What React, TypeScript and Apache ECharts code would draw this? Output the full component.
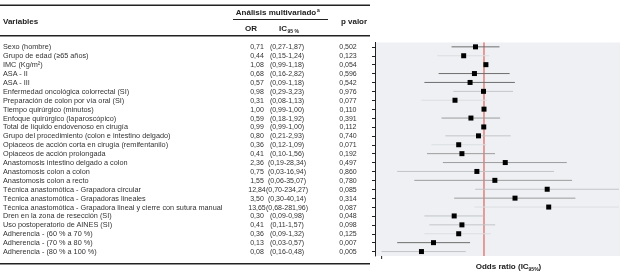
import React, { useEffect, useRef } from "react";
import * as echarts from "echarts";

const variables = [
  "Sexo (hombre)",
  "Grupo de edad (≥65 años)",
  "IMC (Kg/m²)",
  "ASA - II",
  "ASA - III",
  "Enfermedad oncológica colorrectal (SI)",
  "Preparación de colon por vía oral (SI)",
  "Tiempo quirúrgico (minutos)",
  "Enfoque quirúrgico (laparoscópico)",
  "Total de líquido endovenoso en cirugía",
  "Grupo del procedimiento (colon e intestino delgado)",
  "Opiaceos de acción corta en cirugía (remifentanilo)",
  "Opiaceos de acción prolongada",
  "Anastomosis intestino delgado a colon",
  "Anastomosis colon a colon",
  "Anastomosis colon a recto",
  "Técnica anastomótica - Grapadora circular",
  "Técnica anastomótica - Grapadoras lineales",
  "Técnica anastomótica - Grapadora lineal y cierre con sutura manual",
  "Dren en la zona de resección (SI)",
  "Uso postoperatorio de AINES (SI)",
  "Adherencia - (60 % a 70 %)",
  "Adherencia - (70 % a 80 %)",
  "Adherencia - (80 % a 100 %)",
];

const orText = ["0,71","0,44","1,08","0,68","0,57","0,98","0,31","1,00","0,59","0,99","0,80","0,36","0,41","2,36","0,75","1,55","12,84","3,50","13,65","0,30","0,41","0,36","0,13","0,08"];
const icText = ["(0,27-1,87)","(0,15-1,24)","(0,99-1,18)","(0,16-2,82)","(0,09-1,18)","(0,29-3,23)","(0,08-1,13)","(0,99-1,00)","(0,18-1,92)","(0,99-1,00)","(0,21-2,93)","(0,12-1,09)","(0,10-1,56)","(0,19-28,34)","(0,03-16,94)","(0,06-35,07)","(0,70-234,27)","(0,30-40,14)","(0,68-281,96)","(0,09-0,98)","(0,11-1,57)","(0,09-1,32)","(0,03-0,57)","(0,16-0,48)"];
const pText = ["0,502","0,123","0,054","0,596","0,542","0,976","0,077","0,110","0,391","0,112","0,740","0,071","0,192","0,497","0,860","0,780","0,085","0,314","0,087","0,048","0,098","0,125","0,007","0,005"];

const orValue = [0.71,0.44,1.08,0.68,0.57,0.98,0.31,1.0,0.59,0.99,0.8,0.36,0.41,2.36,0.75,1.55,12.84,3.5,13.65,0.3,0.41,0.36,0.13,0.08];
const ciLow = [0.27,0.15,0.99,0.16,0.09,0.29,0.08,0.99,0.18,0.99,0.21,0.12,0.1,0.19,0.03,0.06,0.7,0.3,0.68,0.09,0.11,0.09,0.03,0.016];
const ciHigh = [1.87,1.24,1.18,2.82,3.48,3.23,1.13,1.0,1.92,1.0,2.93,1.09,1.56,28.34,16.94,35.07,234.27,40.14,281.96,0.98,1.57,1.32,0.57,0.48];
const refOR = 1;
const axisTickValue = 0.016;

// line shade per row (style only)
const D = "#6e6e6e", M = "#9c9c9c", L = "#c2c4c7", F = "#dcdee1";
const ciShade = [D, F, D, D, D, L, F, D, M, D, L, F, M, M, L, M, L, M, F, L, L, F, D, L];

const FONT = "'Liberation Sans', Arial, sans-serif";

// table rules (decoration): [x, y, width, height]
const tableRules = [
  [0, 4.5, 370, 1.5],
  [233, 19, 95, 1],
  [0, 35, 370, 1.5],
  [0, 263, 370, 1.5],
];

// table header texts (decoration): [x, y, text, align, fontSize]
const headers: [number, number, string, string, number][] = [
  [3, 21, "Variables", "left", 8],
  [276, 12, "Análisis multivariado", "center", 8],
  [317, 9.5, "a", "left", 5],
  [251, 28, "OR", "center", 8],
  [287, 28, "IC", "right", 8],
  [287.5, 30.5, "95 %", "left", 5],
  [354, 21, "p valor", "center", 8],
];

function buildOption() {
  const rows = variables.map((_, i) => [orValue[i], ciLow[i], ciHigh[i], i]);
  const colAxis = (data: string[], margin: number) => ({
    type: "category",
    data,
    inverse: true,
    position: "left",
    axisLine: { show: false },
    axisTick: { show: false },
    splitLine: { show: false },
    axisLabel: { interval: 0, align: "center", margin, fontSize: 7, fontFamily: FONT, color: "#333" },
  });
  return {
    animation: false,
    grid: { left: 375, right: 4, top: 42.4, bottom: 14.5, show: true, backgroundColor: "#eef0f3", borderWidth: 0 },
    xAxis: {
      type: "log",
      min: 0.01225,
      max: 243,
      axisLine: { lineStyle: { color: "#222", width: 1.5 } },
      axisTick: { show: false },
      axisLabel: { show: false },
      splitLine: { show: false },
      name: "{a|Odds ratio (IC}{b|95%}{a|)}",
      nameLocation: "middle",
      nameGap: 4,
      nameTextStyle: {
        padding: [2, 0, 0, 22],
        rich: {
          a: { fontSize: 8, fontWeight: "bold", fontFamily: FONT, color: "#222" },
          b: { fontSize: 5, fontWeight: "bold", fontFamily: FONT, color: "#222", padding: [4, 0, 0, 0] },
        },
      },
    },
    yAxis: [
      {
        type: "category",
        data: variables,
        inverse: true,
        position: "left",
        axisLine: { show: true, lineStyle: { color: "#222", width: 1 } },
        axisTick: { show: true, alignWithLabel: true, length: 3, lineStyle: { color: "#222" } },
        splitLine: { show: false },
        axisLabel: { interval: 0, align: "left", margin: 372, fontSize: 7.3, fontFamily: FONT, color: "#333" },
      },
      colAxis(orText, 118),
      colAxis(icText, 88),
      colAxis(pText, 27),
    ],
    series: [
      {
        type: "custom",
        clip: false,
        encode: { x: [0, 1, 2], y: 3 },
        data: rows,
        renderItem: (params: any, api: any) => {
          const cs = params.coordSys;
          const y = api.value(3);
          const lo = api.coord([api.value(1), y]);
          const hi = api.coord([api.value(2), y]);
          const c = api.coord([api.value(0), y]);
          const children: any[] = [];
          if (params.dataIndex === 0) {
            const rx = api.coord([refOR, y])[0];
            const tx = api.coord([axisTickValue, y])[0];
            children.push(
              { type: "line", shape: { x1: rx, y1: cs.y, x2: rx, y2: cs.y + cs.height }, style: { stroke: "#d9473f", lineWidth: 1 } },
              { type: "line", shape: { x1: tx, y1: cs.y + cs.height, x2: tx, y2: cs.y + cs.height + 3 }, style: { stroke: "#222", lineWidth: 1 } }
            );
            tableRules.forEach((r) => {
              children.push({ type: "rect", shape: { x: r[0], y: r[1], width: r[2], height: r[3] }, style: { fill: "#222" } });
            });
            headers.forEach((h) => {
              children.push({
                type: "text",
                x: h[0],
                y: h[1],
                style: {
                  text: h[2],
                  fontSize: h[4],
                  fontWeight: "bold",
                  fontFamily: FONT,
                  fill: "#222",
                  align: h[3],
                  verticalAlign: "middle",
                },
              });
            });
          }
          children.push(
            {
              type: "line",
              shape: { x1: Math.max(lo[0], cs.x), y1: lo[1], x2: Math.min(hi[0], cs.x + cs.width - 1), y2: hi[1] },
              style: { stroke: ciShade[params.dataIndex], lineWidth: 1 },
            },
            { type: "rect", shape: { x: c[0] - 2.5, y: c[1] - 2.5, width: 5, height: 5 }, style: { fill: "#000" } }
          );
          return { type: "group", children };
        },
      },
    ],
  };
}

export default function App() {
  const ref = useRef<HTMLDivElement>(null);
  useEffect(() => {
    if (!ref.current) return;
    const chart = echarts.init(ref.current, undefined, { renderer: "svg" });
    chart.setOption(buildOption());
    return () => chart.dispose();
  }, []);
  return <div ref={ref} style={{ position: "fixed", left: 0, top: 0, width: 624, height: 276 }} />;
}
